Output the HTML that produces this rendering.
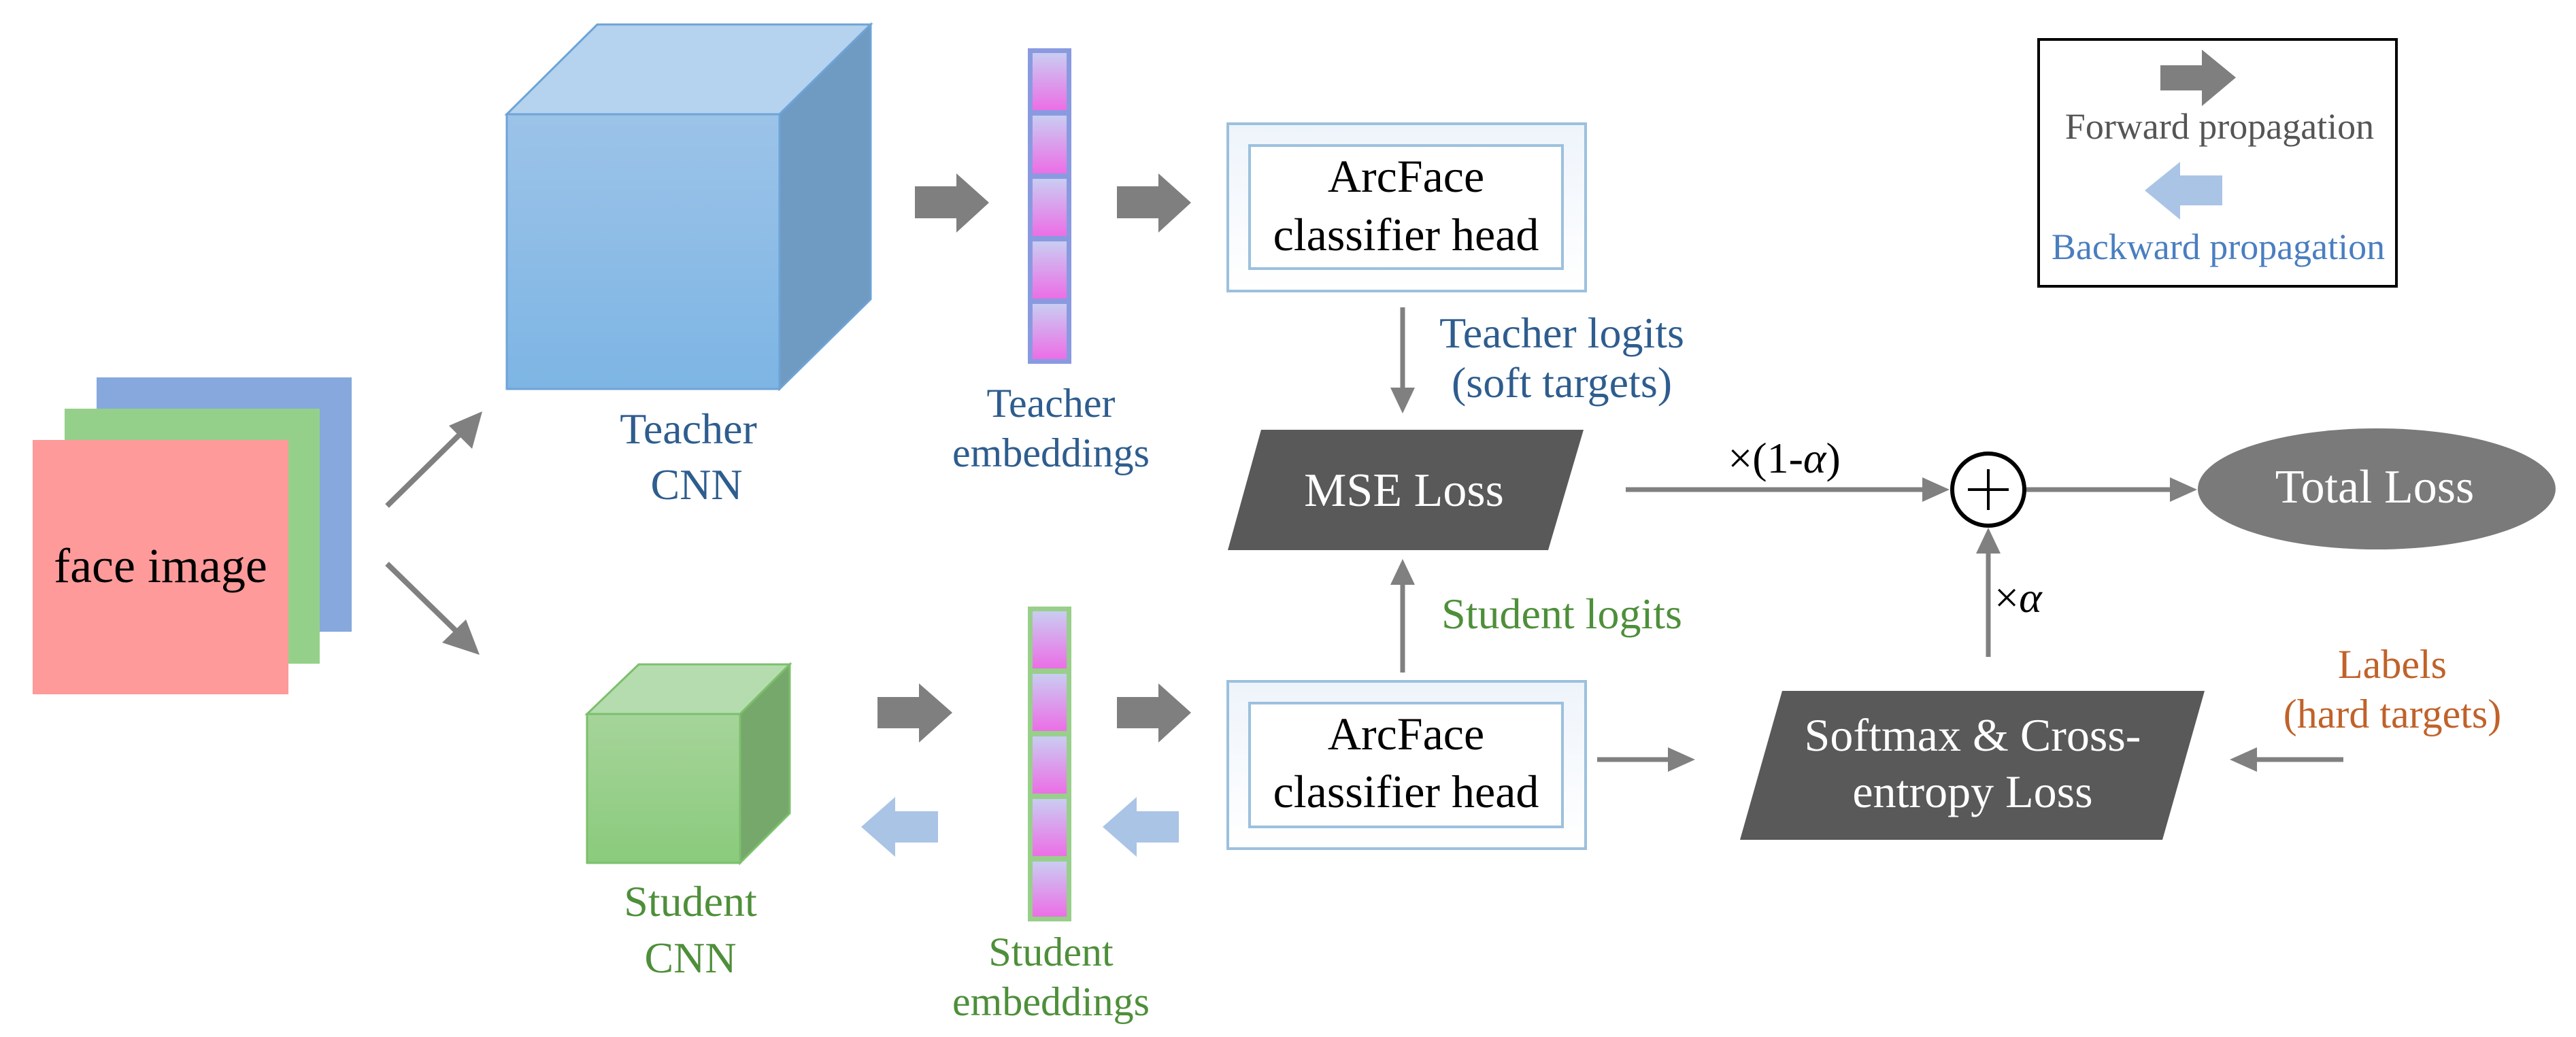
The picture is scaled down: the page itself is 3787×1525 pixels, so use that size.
<!DOCTYPE html>
<html><head><meta charset="utf-8"><style>
html,body{margin:0;padding:0;background:#fff}
svg{display:block}
svg text{font-family:'Liberation Serif','Times New Roman',serif !important}
</style></head><body>
<svg width="3787" height="1525" viewBox="0 0 3787 1525" xmlns="http://www.w3.org/2000/svg" font-family="'Liberation Serif', serif">
<defs>
<linearGradient id="cellT" x1="0" y1="0" x2="0" y2="1"><stop offset="0" stop-color="#c9cdf2"/><stop offset="1" stop-color="#ec6ee6"/></linearGradient>
<linearGradient id="tfront" x1="0" y1="0" x2="0" y2="1"><stop offset="0" stop-color="#9cc3e8"/><stop offset="1" stop-color="#7db5e4"/></linearGradient>
<linearGradient id="sfront" x1="0" y1="0" x2="0" y2="1"><stop offset="0" stop-color="#a6d49a"/><stop offset="1" stop-color="#8acb7c"/></linearGradient>
<linearGradient id="box" x1="0" y1="0" x2="0" y2="1"><stop offset="0" stop-color="#eef4fb"/><stop offset="1" stop-color="#ffffff"/></linearGradient>
</defs>

<rect x="142" y="555" width="375" height="374" fill="#86a8dc"/>
<rect x="95" y="601" width="375" height="375" fill="#95d08a"/>
<rect x="48" y="647" width="376" height="374" fill="#fe9a9a"/>
<text x="236" y="856" font-size="72" text-anchor="middle" fill="#000" font-family="'Liberation Serif', serif">face image</text>

<g stroke="#808080" stroke-width="8">
<line x1="569" y1="744" x2="690" y2="625"/>
<line x1="569" y1="829" x2="688" y2="945"/>
</g>
<polygon points="709,605 694,660 660,626" fill="#808080"/>
<polygon points="705,963 650,945 685,911" fill="#808080"/>

<polygon points="745,168 878,36 1280,36 1146,168" fill="#b5d3ee" stroke="#6ea3d6" stroke-width="3"/>
<polygon points="1146,168 1280,36 1280,440 1146,572" fill="#6f9ac2" stroke="#6ea3d6" stroke-width="3"/>
<rect x="745" y="168" width="401" height="404" fill="url(#tfront)" stroke="#6ea3d6" stroke-width="3"/>
<text x="1012" y="652" font-size="64" text-anchor="middle" fill="#2e5d8e" font-family="'Liberation Serif', serif">Teacher</text>
<text x="1024" y="734" font-size="64" text-anchor="middle" fill="#2e5d8e" font-family="'Liberation Serif', serif">CNN</text>

<rect x="1511" y="71" width="64" height="464" fill="#8a9ae0"/>
<g fill="url(#cellT)">
<rect x="1518" y="78" width="50" height="84"/><rect x="1518" y="170" width="50" height="85"/><rect x="1518" y="263" width="50" height="84"/><rect x="1518" y="355" width="50" height="84"/><rect x="1518" y="447" width="50" height="81"/>
</g>
<text x="1545" y="613" font-size="60" text-anchor="middle" fill="#2e5d8e" font-family="'Liberation Serif', serif">Teacher</text>
<text x="1545" y="686" font-size="60" text-anchor="middle" fill="#2e5d8e" font-family="'Liberation Serif', serif">embeddings</text>

<polygon points="863,1050 939,977 1161,977 1088,1050" fill="#b5dcae" stroke="#7cbf6c" stroke-width="3"/>
<polygon points="1088,1050 1161,977 1161,1196 1088,1269" fill="#76a86c" stroke="#7cbf6c" stroke-width="3"/>
<rect x="863" y="1050" width="225" height="219" fill="url(#sfront)" stroke="#7cbf6c" stroke-width="3"/>
<text x="1015" y="1347" font-size="64" text-anchor="middle" fill="#4e8f3a" font-family="'Liberation Serif', serif">Student</text>
<text x="1015" y="1430" font-size="64" text-anchor="middle" fill="#4e8f3a" font-family="'Liberation Serif', serif">CNN</text>

<rect x="1511" y="892" width="64" height="463" fill="#98cf8a"/>
<g fill="url(#cellT)">
<rect x="1518" y="899" width="50" height="84"/><rect x="1518" y="991" width="50" height="84"/><rect x="1518" y="1083" width="50" height="84"/><rect x="1518" y="1175" width="50" height="84"/><rect x="1518" y="1267" width="50" height="81"/>
</g>
<text x="1545" y="1420" font-size="60" text-anchor="middle" fill="#4e8f3a" font-family="'Liberation Serif', serif">Student</text>
<text x="1545" y="1493" font-size="60" text-anchor="middle" fill="#4e8f3a" font-family="'Liberation Serif', serif">embeddings</text>

<g fill="#7f7f7f">
<polygon points="1345,274 1406,274 1406,255 1454,298 1406,342 1406,321 1345,321"/>
<polygon points="1642,274 1703,274 1703,255 1751,298 1703,342 1703,321 1642,321"/>
<polygon points="1290,1025 1351,1025 1351,1005 1400,1048 1351,1092 1351,1071 1290,1071"/>
<polygon points="1642,1025 1703,1025 1703,1005 1751,1048 1703,1092 1703,1071 1642,1071"/>
<polygon points="3176,96 3237,96 3237,73 3287,114 3237,156 3237,133 3176,133"/>
</g>
<g fill="#aac4e6">
<polygon points="1379,1193 1316,1193 1316,1172 1266,1216 1316,1260 1316,1239 1379,1239"/>
<polygon points="1733,1193 1671,1193 1671,1172 1621,1216 1671,1260 1671,1239 1733,1239"/>
<polygon points="3267,258 3205,258 3205,238 3153,280 3205,323 3205,302 3267,302"/>
</g>

<rect x="1805" y="182" width="526" height="246" fill="url(#box)" stroke="#9cc0de" stroke-width="4"/>
<rect x="1837" y="214" width="460" height="181" fill="#fff" stroke="#9cc0de" stroke-width="4"/>
<text x="2067" y="282" font-size="68" text-anchor="middle" font-family="'Liberation Serif', serif">ArcFace</text>
<text x="2067" y="368" font-size="68" text-anchor="middle" font-family="'Liberation Serif', serif">classifier head</text>

<rect x="1805" y="1002" width="526" height="246" fill="url(#box)" stroke="#9cc0de" stroke-width="4"/>
<rect x="1837" y="1034" width="460" height="182" fill="#fff" stroke="#9cc0de" stroke-width="4"/>
<text x="2067" y="1102" font-size="68" text-anchor="middle" font-family="'Liberation Serif', serif">ArcFace</text>
<text x="2067" y="1187" font-size="68" text-anchor="middle" font-family="'Liberation Serif', serif">classifier head</text>

<polygon points="1854,632 2328,632 2276,809 1805,809" fill="#595959"/>
<text x="2064" y="744" font-size="70" text-anchor="middle" fill="#fff" font-family="'Liberation Serif', serif">MSE Loss</text>

<g stroke="#808080" stroke-width="7">
<line x1="2062" y1="452" x2="2062" y2="575"/>
<line x1="2062" y1="989" x2="2062" y2="855"/>
<line x1="2390" y1="720" x2="2830" y2="720"/>
<line x1="2978" y1="720" x2="3195" y2="720"/>
<line x1="2923" y1="966" x2="2923" y2="810"/>
<line x1="2348" y1="1117" x2="2458" y2="1117"/>
<line x1="3445" y1="1117" x2="3312" y2="1117"/>
</g>
<g fill="#808080">
<polygon points="2062,608 2044,570 2080,570"/>
<polygon points="2062,822 2044,860 2080,860"/>
<polygon points="2866,720 2826,702 2826,738"/>
<polygon points="3230,720 3190,702 3190,738"/>
<polygon points="2923,776 2905,814 2941,814"/>
<polygon points="2492,1117 2452,1099 2452,1135"/>
<polygon points="3278,1117 3318,1099 3318,1135"/>
</g>
<text x="2296" y="511" font-size="64" text-anchor="middle" fill="#2e5d8e" font-family="'Liberation Serif', serif">Teacher logits</text>
<text x="2296" y="584" font-size="64" text-anchor="middle" fill="#2e5d8e" font-family="'Liberation Serif', serif">(soft targets)</text>
<text x="2296" y="924" font-size="64" text-anchor="middle" fill="#4e8f3a" font-family="'Liberation Serif', serif">Student logits</text>
<text x="2623" y="695" font-size="64" text-anchor="middle" fill="#000" font-family="'Liberation Serif', serif">×(1-<tspan font-style="italic">α</tspan>)</text>
<text x="2932" y="900" font-size="64" fill="#000" font-family="'Liberation Serif', serif">×<tspan font-style="italic">α</tspan></text>

<circle cx="2923" cy="720" r="53" fill="#fff" stroke="#000" stroke-width="6"/>
<line x1="2923" y1="690" x2="2923" y2="750" stroke="#000" stroke-width="4"/>
<line x1="2893" y1="720" x2="2953" y2="720" stroke="#000" stroke-width="4"/>

<ellipse cx="3494" cy="719" rx="263" ry="89" fill="#7a7a7a"/>
<text x="3491" y="739" font-size="70" text-anchor="middle" fill="#fff" font-family="'Liberation Serif', serif">Total Loss</text>

<polygon points="2620,1016 3241,1016 3179,1235 2558,1235" fill="#595959"/>
<text x="2900" y="1104" font-size="68" text-anchor="middle" fill="#fff" font-family="'Liberation Serif', serif">Softmax &amp; Cross-</text>
<text x="2900" y="1187" font-size="68" text-anchor="middle" fill="#fff" font-family="'Liberation Serif', serif">entropy Loss</text>

<text x="3517" y="997" font-size="60" text-anchor="middle" fill="#c0622a" font-family="'Liberation Serif', serif">Labels</text>
<text x="3517" y="1070" font-size="60" text-anchor="middle" fill="#c0622a" font-family="'Liberation Serif', serif">(hard targets)</text>

<rect x="2997" y="58" width="526" height="363" fill="none" stroke="#000" stroke-width="4"/>
<text x="3263" y="204" font-size="54" text-anchor="middle" fill="#555" font-family="'Liberation Serif', serif">Forward propagation</text>
<text x="3261" y="381" font-size="54" text-anchor="middle" fill="#4a7ec0" font-family="'Liberation Serif', serif">Backward propagation</text>
</svg>
</body></html>
